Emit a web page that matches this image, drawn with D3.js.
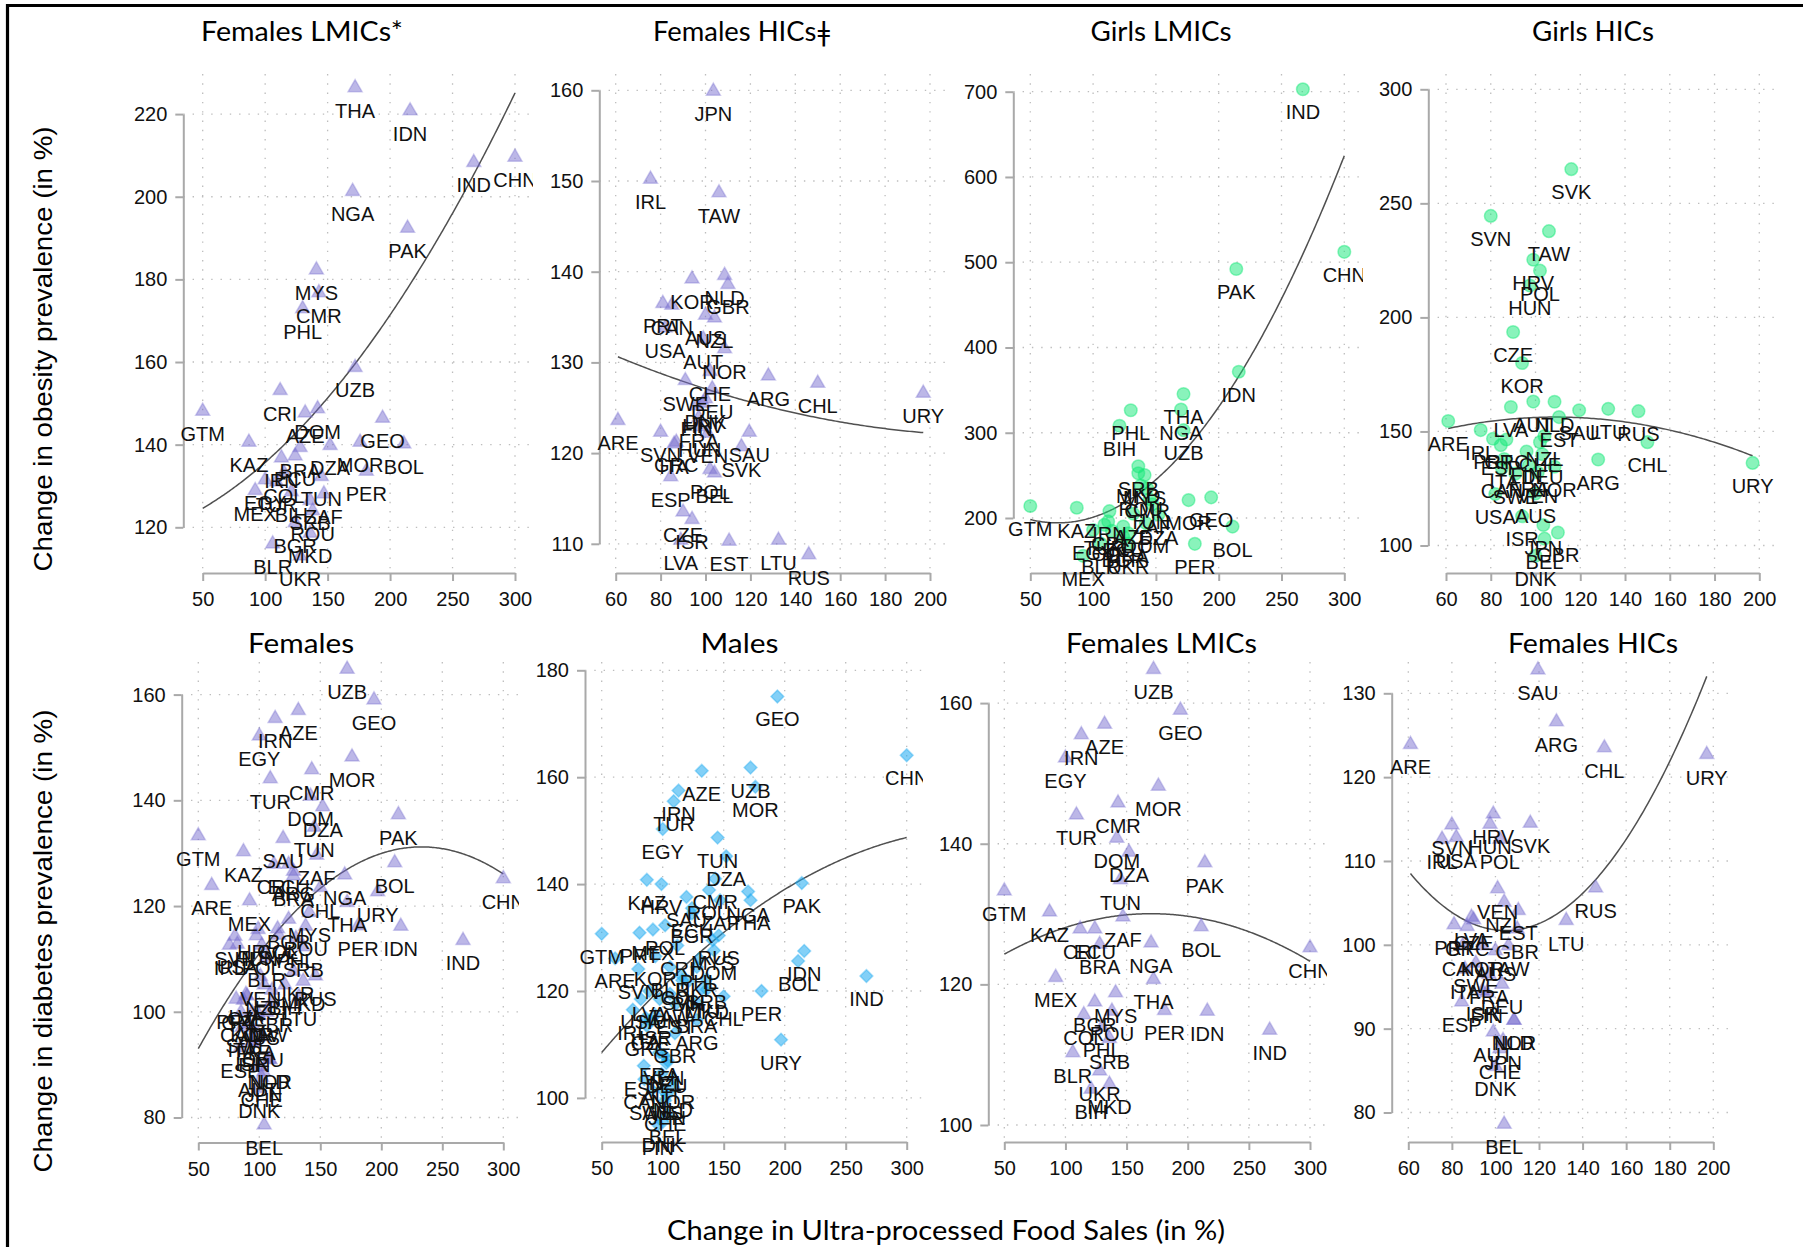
<!DOCTYPE html>
<html>
<head>
<meta charset="utf-8">
<script src="https://cdn.jsdelivr.net/npm/d3@7"></script>
<style>
  body { margin: 0; background: #fff; }
  svg { display: block; }
</style>
</head>
<body>
<svg id="chart" width="1803" height="1247"></svg>
<script>
// ---------- Country groups and change in ultra-processed food sales (%) ----------
const lmicCodes = ["AZE","BGR","BIH","BLR","BOL","BRA","CHN","CMR","COL","CRI","DOM","DZA","ECU","EGY","GEO","GTM","IDN","IND","IRN","KAZ","MEX","MKD","MOR","MYS","NGA","PAK","PER","PHL","ROU","SRB","THA","TUN","TUR","UKR","UZB","ZAF"];
const lmicUpf = [132,124,121,106,211,128,300,143,115,112,142,152,124,100,194,50,216,267,113,87,92,136,176,141,170,214,181,130,138,136,172,145,109,128,172,147];

const hicCodes = ["ARE","ARG","AUS","AUT","BEL","CAN","CHE","CHL","CZE","DEU","DNK","ESP","EST","FIN","FRA","GBR","GRC","HRV","HUN","IRL","ISR","ITA","JPN","KOR","LTU","LVA","NLD","NOR","NZL","POL","PRT","RUS","SAU","SVK","SVN","SWE","TAW","URY","USA","VEN"];
const hicUpf = [61,128,100,99,104,85,102,150,90,103,100,84.5,110.5,96,97,110,87,99,97.5,75.5,94,86,103.5,94,132.5,89,108.5,108.5,104,102,81,146,119.5,116,80,91,106,197,82,101];

// ---------- Change in obesity prevalence (%) ----------
const lmicObesityFemales = [147.7,121.1,128.6,116.0,140.2,139.3,209.6,176.8,133.2,153.1,148.7,139.8,137.3,131.5,146.4,148.1,220.8,208.3,136.8,140.6,128.9,118.6,140.6,182.3,201.3,192.4,133.6,172.9,124.0,126.5,226.4,132.3,131.0,113.1,158.7,128.1];
const lmicObesityGirls = [205,178,308.2,170,189.9,182,512.2,235,185,196,194,204,190,186,224.2,214.1,371.6,702.8,208,212.1,155.6,252.5,221,250.5,327.2,492,169.7,326.4,238,260.6,345.4,222,192,170,303,216];
const hicObesityFemales = [123.6,128.5,135.2,132.6,117.8,136.3,129.0,127.7,113.5,127.1,126.0,117.4,110.3,125.2,123.9,138.6,121.2,125.5,122.9,150.2,112.7,121.0,159.9,139.2,110.4,110.4,139.6,131.5,134.9,118.2,136.5,108.8,122.3,120.7,122.3,128.0,148.7,126.6,133.8,122.2];
const hicObesityGirls = [154.6,137.7,122.8,163.1,103.0,134.0,145.3,145.3,193.6,140.0,95.5,144.0,156.3,141.2,135.0,105.7,146.5,225.3,214.0,150.6,112.8,137.9,109.0,180.0,159.9,160.7,163.0,134.5,148.0,220.5,146.8,158.9,159.3,265.0,244.5,131.5,237.8,136.2,122.6,132.0];

// ---------- Change in diabetes prevalence (%) ----------
const lmicDiabetesFemales = [157.0,117.5,105.1,110.3,128.2,125.7,125.2,145.8,115.7,127.9,140.8,138.8,127.9,152.2,159.0,133.3,116.2,113.5,155.5,130.3,121.0,105.8,148.2,118.8,125.9,137.3,116.3,113.9,116.2,112.3,120.7,134.9,144.1,107.7,164.8,129.6];
const lmicDiabetesMales = [161.2,134.5,121.8,124.5,125.6,117.8,164.1,141.0,123.0,128.5,127.6,145.2,135.5,150.3,175.1,130.7,127.5,122.8,157.5,140.8,131.5,120.3,158.2,129.5,138.6,140.2,120.0,126.0,138.9,122.2,137.0,148.7,155.5,124.5,161.8,137.0];
const hicDiabetesFemales = [123.9,126.6,99.3,89.6,78.6,99.9,87.6,123.5,103.0,95.3,85.5,93.2,104.1,94.3,96.5,101.9,102.2,115.6,114.4,112.6,94.5,97.1,88.6,99.9,102.9,103.3,91.0,91.0,105.1,112.6,102.4,106.8,132.8,114.5,114.3,97.8,99.9,122.7,112.8,106.7];
const hicDiabetesMales = [126.1,114.6,101.5,104.5,96.9,103.5,99.5,119.0,114.5,106.5,95.5,106.0,117.5,95.0,108.5,112.1,113.5,140.0,118.5,116.5,115.5,115.0,100.5,126.5,120.5,120.0,102.0,103.5,107.0,132.3,130.9,130.4,137.6,122.0,124.1,101.5,119.5,110.9,118.5,108.0];

// ---------- Quadratic fit coefficients [intercept, linear, quadratic] ----------
const fitObesityFemalesLmic = [118.0, 0.087, 0.0009];
const fitObesityFemalesHic = [137.96, -0.1386, 0.000299];
const fitObesityGirlsLmic = [236.77, -1.185, 0.008263];
const fitObesityGirlsHic = [130.42, 0.4756, -0.002185];
const fitDiabetesFemales = [69.31, 0.5312, -0.00114];
const fitDiabetesMales = [94.08, 0.3095, -0.0004246];
const fitDiabetesFemalesLmic = [118.49, 0.136, -0.0004];
const fitDiabetesFemalesHic = [140.7, -0.745, 0.003558];

// ---------- Tick values ----------
const xTicksAll = [50,100,150,200,250,300];
const xTicksHic = [60,80,100,120,140,160,180,200];
const yTicksObFemLmic = [120,140,160,180,200,220];
const yTicksObFemHic = [110,120,130,140,150,160];
const yTicksObGirlLmic = [200,300,400,500,600,700];
const yTicksObGirlHic = [100,150,200,250,300];
const yTicksDiabFem = [80,100,120,140,160];
const yTicksDiabMale = [100,120,140,160,180];
const yTicksDiabFemLmic = [100,120,140,160];
const yTicksDiabFemHic = [80,90,100,110,120,130];

// ---------- Panels ----------
const lmic = (ys) => ({ codes: lmicCodes, xs: lmicUpf, ys });
const hic = (ys) => ({ codes: hicCodes, xs: hicUpf, ys });

const panels = [
  { title: "Females LMICs*", groups: [lmic(lmicObesityFemales)], marker: "triangle",
    xTicks: xTicksAll, yTicks: yTicksObFemLmic, fit: fitObesityFemalesLmic, fitRange: [50, 300],
    xPx: [202.7, 515], yPx: [527.3, 114.1], axisX: 183.3, axisY: 573, region: [183.3, 533, 74, 569],
    titleX: 302, titleY: 41, titleW: 202 },
  { title: "Females HICs\u01C2", groups: [hic(hicObesityFemales)], marker: "triangle",
    xTicks: xTicksHic, yTicks: yTicksObFemHic, fit: fitObesityFemalesHic, fitRange: [61, 197],
    xPx: [615.7, 930], yPx: [543.8, 90.3], axisX: 599.3, axisY: 573, region: [599.3, 950, 74, 569],
    titleX: 742, titleY: 41, titleW: 178 },
  { title: "Girls LMICs", groups: [lmic(lmicObesityGirls)], marker: "circle",
    xTicks: xTicksAll, yTicks: yTicksObGirlLmic, fit: fitObesityGirlsLmic, fitRange: [50, 300],
    xPx: [1030.3, 1344.3], yPx: [518, 91.7], axisX: 1013.3, axisY: 573, region: [1013.3, 1363, 74, 569],
    titleX: 1161, titleY: 41, titleW: 141 },
  { title: "Girls HICs", groups: [hic(hicObesityGirls)], marker: "circle",
    xTicks: xTicksHic, yTicks: yTicksObGirlHic, fit: fitObesityGirlsHic, fitRange: [61, 197],
    xPx: [1446, 1759.3], yPx: [545.5, 89.3], axisX: 1428.3, axisY: 573, region: [1428.3, 1780, 74, 569],
    titleX: 1593, titleY: 41, titleW: 122 },
  { title: "Females", groups: [lmic(lmicDiabetesFemales), hic(hicDiabetesFemales)], marker: "triangle",
    xTicks: xTicksAll, yTicks: yTicksDiabFem, fit: fitDiabetesFemales, fitRange: [50, 300],
    xPx: [198.3, 503.3], yPx: [1117.5, 694.6], axisX: 181.7, axisY: 1142.5, region: [181.7, 519, 662, 1138],
    titleX: 301, titleY: 653, titleW: 106 },
  { title: "Males", groups: [lmic(lmicDiabetesMales), hic(hicDiabetesMales)], marker: "diamond",
    xTicks: xTicksAll, yTicks: yTicksDiabMale, fit: fitDiabetesMales, fitRange: [50, 300],
    xPx: [601.7, 906.7], yPx: [1097.9, 670.3], axisX: 585, axisY: 1142, region: [585, 923, 662, 1138],
    titleX: 739.5, titleY: 653, titleW: 78 },
  { title: "Females LMICs", groups: [lmic(lmicDiabetesFemales)], marker: "triangle",
    xTicks: xTicksAll, yTicks: yTicksDiabFemLmic, fit: fitDiabetesFemalesLmic, fitRange: [50, 300],
    xPx: [1004.3, 1310], yPx: [1125, 703.1], axisX: 988.3, axisY: 1142, region: [988.3, 1327, 662, 1138],
    titleX: 1161.5, titleY: 653, titleW: 191 },
  { title: "Females HICs", groups: [hic(hicDiabetesFemales)], marker: "triangle",
    xTicks: xTicksHic, yTicks: yTicksDiabFemHic, fit: fitDiabetesFemalesHic, fitRange: [61, 197],
    xPx: [1408.3, 1713.3], yPx: [1112.5, 693.3], axisX: 1391.7, axisY: 1142, region: [1391.7, 1735, 662, 1138],
    titleX: 1593, titleY: 653, titleW: 170 }
];

// ---------- Styles ----------
const labelFont = "'Liberation Sans', Arial, Helvetica, sans-serif";
const titleFont = "Lato, 'Open Sans', sans-serif";
const labelSize = 20;
const markerStyle = {
  triangle: { color: "rgb(115,105,205)", fillOpacity: 0.48, strokeOpacity: 0.33 },
  circle:   { color: "rgb(20,232,120)",  fillOpacity: 0.5, strokeOpacity: 0.45 },
  diamond:  { color: "rgb(30,170,240)",  fillOpacity: 0.55, strokeOpacity: 0.4 }
};
const symbolFor = {
  triangle: d3.symbol().type(d3.symbolTriangle).size(86)(),
  circle: d3.symbol().type(d3.symbolCircle).size(125)(),
  diamond: d3.symbol().type(d3.symbolSquare).size(82)()
};

const svg = d3.select("#chart");
const defs = svg.append("defs");

// Frame lines along the top and left edges
svg.append("line").attr("x1", 6).attr("x2", 1803).attr("y1", 5.5).attr("y2", 5.5)
  .attr("stroke", "#000").attr("stroke-width", 3.2);
svg.append("line").attr("x1", 7.5).attr("x2", 7.5).attr("y1", 4).attr("y2", 1247)
  .attr("stroke", "#000").attr("stroke-width", 3.2);

panels.forEach((p, i) => {
  const x = d3.scaleLinear().domain([p.xTicks[0], p.xTicks[p.xTicks.length - 1]]).range(p.xPx);
  const y = d3.scaleLinear().domain([p.yTicks[0], p.yTicks[p.yTicks.length - 1]]).range(p.yPx);
  const [rl, rr, rt, rb] = p.region;
  const g = svg.append("g");

  // marks and labels are cut off only at the panel's right-hand edge
  const clipId = "plot-clip-" + i;
  defs.append("clipPath").attr("id", clipId)
    .append("rect").attr("x", rl - 75).attr("y", rt - 40)
    .attr("width", rr - rl + 75).attr("height", p.axisY + 70 - (rt - 40));

  // dotted grid at the tick positions
  const grid = g.append("g").attr("stroke", "#bdbdbd").attr("stroke-width", 1.3)
    .attr("stroke-dasharray", "1.4,7.9");
  grid.selectAll("line.v").data(p.xTicks).join("line").attr("class", "v")
    .attr("x1", d => x(d)).attr("x2", d => x(d)).attr("y1", rt).attr("y2", rb);
  grid.selectAll("line.h").data(p.yTicks).join("line").attr("class", "h")
    .attr("x1", rl).attr("x2", rr).attr("y1", d => y(d)).attr("y2", d => y(d));

  // axes
  const xAxis = d3.axisBottom(x).tickValues(p.xTicks).tickSize(8).tickSizeOuter(0).tickPadding(11);
  const yAxis = d3.axisLeft(y).tickValues(p.yTicks).tickSize(8).tickSizeOuter(0).tickPadding(8);
  [g.append("g").attr("transform", `translate(0,${p.axisY})`).call(xAxis),
   g.append("g").attr("transform", `translate(${p.axisX},0)`).call(yAxis)].forEach(a => {
    a.select(".domain").attr("stroke", "#a9a9a9").attr("stroke-width", 2);
    a.selectAll(".tick line").attr("stroke", "#a9a9a9").attr("stroke-width", 2);
    a.selectAll(".tick text").attr("fill", "#111").attr("font-family", labelFont)
      .attr("font-size", labelSize);
  });

  const pts = [];
  p.groups.forEach(gr => gr.codes.forEach((c, j) => pts.push({ code: c, ux: gr.xs[j], v: gr.ys[j] })));

  const plot = g.append("g").attr("clip-path", `url(#${clipId})`);

  // fitted quadratic trend
  const [c0, c1, c2] = p.fit;
  const fx = d3.range(p.fitRange[0], p.fitRange[1] + 0.001, 1);
  plot.append("path")
    .attr("d", d3.line().x(d => x(d)).y(d => y(c0 + c1 * d + c2 * d * d))(fx))
    .attr("fill", "none").attr("stroke", "#505050").attr("stroke-width", 1.5);

  // markers
  const ms = markerStyle[p.marker];
  plot.append("g").selectAll("path").data(pts).join("path")
    .attr("d", symbolFor[p.marker])
    .attr("transform", d => `translate(${x(d.ux)},${y(d.v)})` + (p.marker === "diamond" ? " rotate(45)" : ""))
    .attr("fill", ms.color).attr("fill-opacity", ms.fillOpacity)
    .attr("stroke", ms.color).attr("stroke-opacity", ms.strokeOpacity).attr("stroke-width", 1.5);

  // country labels beneath each marker
  plot.append("g").selectAll("text").data(pts).join("text")
    .attr("x", d => x(d.ux)).attr("y", d => y(d.v) + 30)
    .attr("text-anchor", "middle").attr("font-family", labelFont).attr("font-size", labelSize)
    .attr("fill", "#111").text(d => d.code);

  // panel title
  svg.append("text").attr("x", p.titleX).attr("y", p.titleY).attr("text-anchor", "middle")
    .attr("font-family", titleFont).attr("font-size", 27).attr("fill", "#000")
    .attr("textLength", p.titleW).attr("lengthAdjust", "spacingAndGlyphs").text(p.title);
});

// shared axis titles
svg.append("text").attr("transform", "translate(52,349) rotate(-90)").attr("text-anchor", "middle")
  .attr("font-family", labelFont).attr("font-size", 26).attr("fill", "#000")
  .attr("textLength", 445).attr("lengthAdjust", "spacingAndGlyphs")
  .text("Change in obesity prevalence (in %)");
svg.append("text").attr("transform", "translate(52,941) rotate(-90)").attr("text-anchor", "middle")
  .attr("font-family", labelFont).attr("font-size", 26).attr("fill", "#000")
  .attr("textLength", 463).attr("lengthAdjust", "spacingAndGlyphs")
  .text("Change in diabetes prevalence (in %)");
svg.append("text").attr("x", 946).attr("y", 1240).attr("text-anchor", "middle")
  .attr("font-family", titleFont).attr("font-size", 27).attr("fill", "#000")
  .attr("textLength", 558).attr("lengthAdjust", "spacingAndGlyphs")
  .text("Change in Ultra-processed Food Sales (in %)");
</script>
</body>
</html>
